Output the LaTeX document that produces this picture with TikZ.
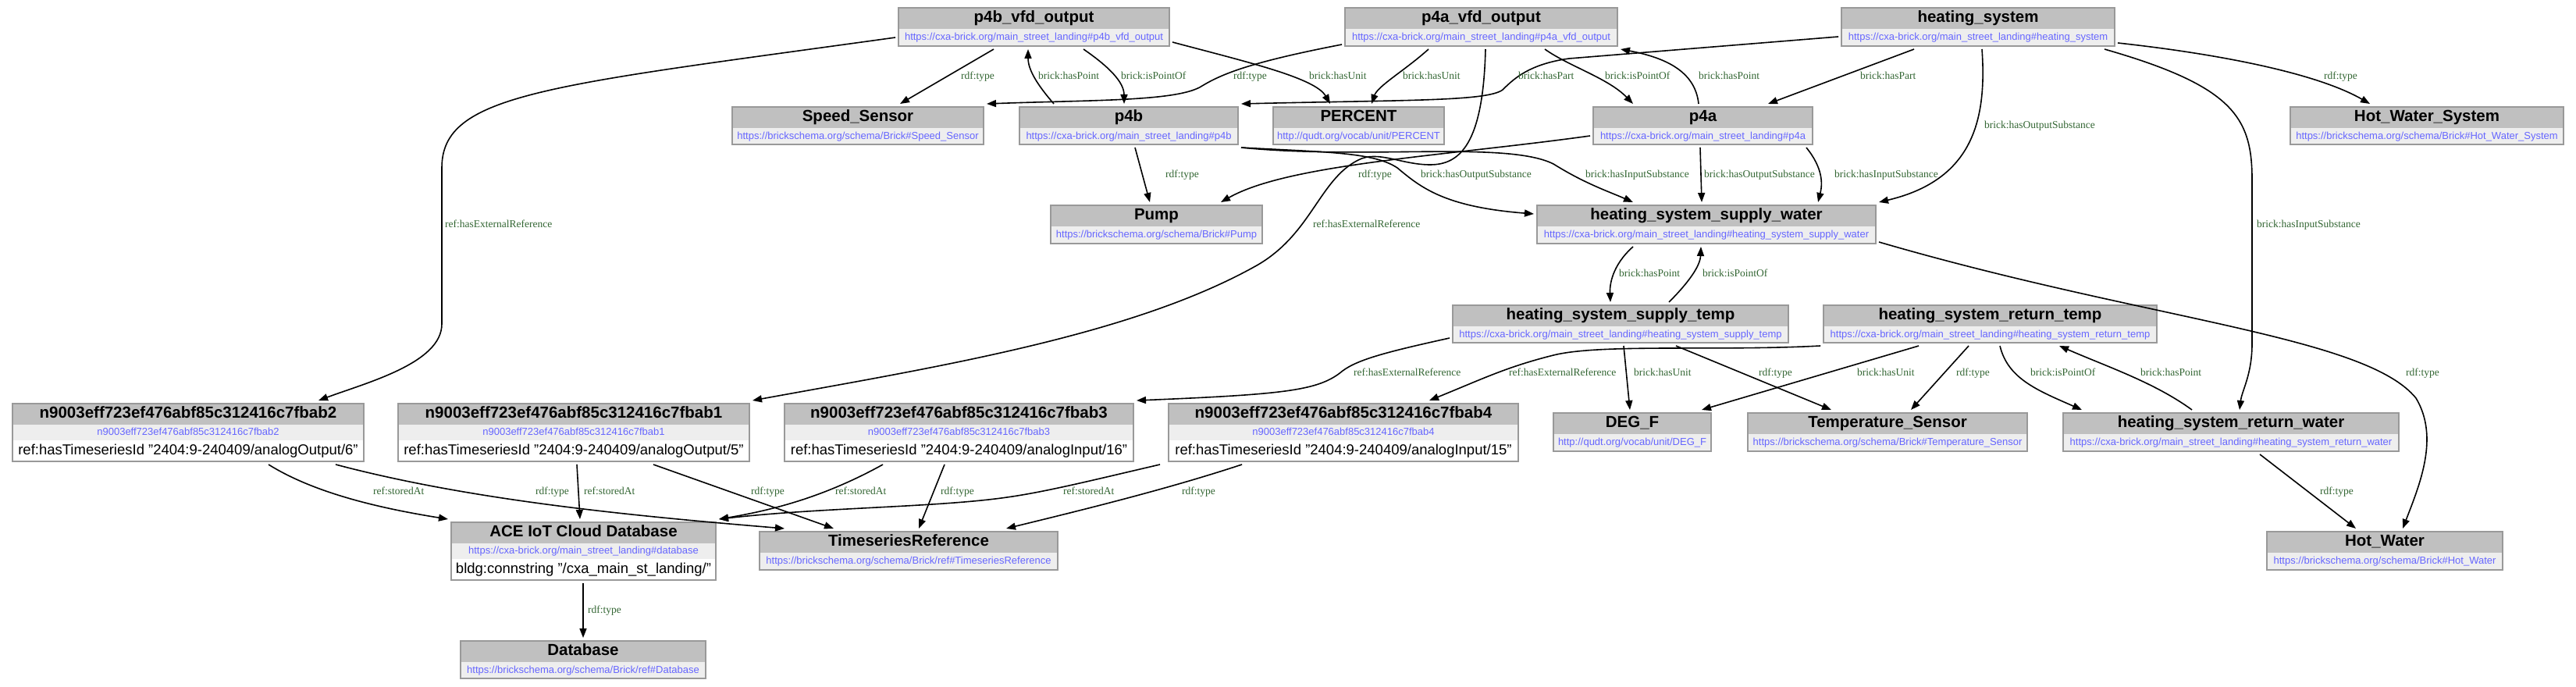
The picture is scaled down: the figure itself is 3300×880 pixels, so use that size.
\documentclass[tikz,border=0pt]{standalone}
\usepackage{fontspec}
\setmainfont{Liberation Sans}
\newfontfamily\serifl{Liberation Serif}
\usetikzlibrary{arrows.meta,fit}
\definecolor{titlefill}{HTML}{C0C0C0}
\definecolor{urlfill}{HTML}{EEEEEE}
\definecolor{urlcol}{HTML}{6666FF}
\definecolor{labcol}{HTML}{336633}
\definecolor{framecol}{HTML}{999999}
\tikzset{
  boxframe/.style={draw=framecol, line width=2.4pt},
  titletext/.style={inner sep=0pt, font=\fontsize{20.5}{24}\selectfont\bfseries, text height=14.7pt, text depth=4.3pt},
  urltext/.style={inner sep=0pt, text=urlcol, font=\fontsize{13}{15}\selectfont, text height=9.4pt, text depth=2.7pt},
  littext/.style={inner sep=0pt, font=\fontsize{18.5}{21}\selectfont, text height=13.3pt, text depth=3.9pt},
  elab/.style={inner sep=0pt, anchor=west, text=labcol, font=\serifl\fontsize{13.5}{15}\selectfont, text height=9.1pt, text depth=2.9pt},
  conn/.style={draw=black, line width=1.6pt, -{Triangle[length=12pt,width=9pt]}},
  holder/.style={inner sep=0pt, outer sep=4pt}
}
\newcommand\rdfnode[7]{%
  \fill[urlfill] (#2,#3) rectangle (#4,#5);
  \fill[titlefill] (#2,#3) rectangle (#4,{#3+27});
  \draw[boxframe] (#2,#3) rectangle (#4,#5);
  \node[titletext] (#1-t) at ({(#2+#4)/2},{#3+13.5}) {#6};
  \node[urltext] (#1-u) at ({(#2+#4)/2},{#3+38}) {#7};
  \node[holder, fit={(#2,#3) (#4,#5)}] (#1) {};
}
\newcommand\litnode[8]{%
  \fill[white] (#2,#3) rectangle (#4,#5);
  \fill[urlfill] (#2,{#3+27}) rectangle (#4,{#3+47});
  \fill[titlefill] (#2,#3) rectangle (#4,{#3+27});
  \draw[boxframe] (#2,#3) rectangle (#4,#5);
  \node[titletext] (#1-t) at ({(#2+#4)/2},{#3+13.5}) {#6};
  \node[urltext] (#1-u) at ({(#2+#4)/2},{#3+37}) {#7};
  \node[littext] (#1-l) at ({(#2+#4)/2},{#3+60.5}) {#8};
  \node[holder, fit={(#2,#3) (#4,#5)}] (#1) {};
}
\begin{document}
\begin{tikzpicture}[x=1pt,y=-1pt]
\fill[white] (0,0) rectangle (3300,880);
\useasboundingbox (0,0) rectangle (3300,880);

% ---------- nodes ----------
\rdfnode{p4bvfd}{1151}{10}{1498}{59}{p4b\_vfd\_output}{https://cxa-brick.org/main\_street\_landing\#p4b\_vfd\_output}
\rdfnode{p4avfd}{1723}{10}{2072}{59}{p4a\_vfd\_output}{https://cxa-brick.org/main\_street\_landing\#p4a\_vfd\_output}
\rdfnode{heatsys}{2359}{10}{2709}{59}{heating\_system}{https://cxa-brick.org/main\_street\_landing\#heating\_system}
\rdfnode{speed}{938}{137}{1260}{185}{Speed\_Sensor}{https://brickschema.org/schema/Brick\#Speed\_Sensor}
\rdfnode{p4b}{1306}{137}{1586}{185}{p4b}{https://cxa-brick.org/main\_street\_landing\#p4b}
\rdfnode{percent}{1631}{137}{1850}{185}{PERCENT}{http://qudt.org/vocab/unit/PERCENT}
\rdfnode{p4a}{2041}{137}{2322}{185}{p4a}{https://cxa-brick.org/main\_street\_landing\#p4a}
\rdfnode{hws}{2934}{137}{3284}{185}{Hot\_Water\_System}{https://brickschema.org/schema/Brick\#Hot\_Water\_System}
\rdfnode{pump}{1346}{263}{1617}{312}{Pump}{https://brickschema.org/schema/Brick\#Pump}
\rdfnode{supw}{1969}{263}{2403}{312}{heating\_system\_supply\_water}{https://cxa-brick.org/main\_street\_landing\#heating\_system\_supply\_water}
\rdfnode{supt}{1861}{391}{2291}{439}{heating\_system\_supply\_temp}{https://cxa-brick.org/main\_street\_landing\#heating\_system\_supply\_temp}
\rdfnode{rett}{2336}{391}{2763}{439}{heating\_system\_return\_temp}{https://cxa-brick.org/main\_street\_landing\#heating\_system\_return\_temp}
\litnode{fbabb}{16}{517}{466}{591}{n9003eff723ef476abf85c312416c7fbab2}{n9003eff723ef476abf85c312416c7fbab2}{ref:hasTimeseriesId "2404:9-240409/analogOutput/6"}
\litnode{fbaba}{510}{517}{960}{591}{n9003eff723ef476abf85c312416c7fbab1}{n9003eff723ef476abf85c312416c7fbab1}{ref:hasTimeseriesId "2404:9-240409/analogOutput/5"}
\litnode{fbabc}{1005}{517}{1452}{591}{n9003eff723ef476abf85c312416c7fbab3}{n9003eff723ef476abf85c312416c7fbab3}{ref:hasTimeseriesId "2404:9-240409/analogInput/16"}
\litnode{fbabd}{1497}{517}{1945}{591}{n9003eff723ef476abf85c312416c7fbab4}{n9003eff723ef476abf85c312416c7fbab4}{ref:hasTimeseriesId "2404:9-240409/analogInput/15"}
\rdfnode{degf}{1990}{529}{2192}{578}{DEG\_F}{http://qudt.org/vocab/unit/DEG\_F}
\rdfnode{temps}{2239}{529}{2597}{578}{Temperature\_Sensor}{https://brickschema.org/schema/Brick\#Temperature\_Sensor}
\rdfnode{retw}{2643}{529}{3073}{578}{heating\_system\_return\_water}{https://cxa-brick.org/main\_street\_landing\#heating\_system\_return\_water}
\litnode{ace}{578}{669}{917}{743}{ACE IoT Cloud Database}{https://cxa-brick.org/main\_street\_landing\#database}{bldg:connstring "/cxa\_main\_st\_landing/"}
\rdfnode{tsref}{973}{681}{1355}{730}{TimeseriesReference}{https://brickschema.org/schema/Brick/ref\#TimeseriesReference}
\rdfnode{hw}{2904}{681}{3206}{730}{Hot\_Water}{https://brickschema.org/schema/Brick\#Hot\_Water}
\rdfnode{db}{590}{821}{904}{869}{Database}{https://brickschema.org/schema/Brick/ref\#Database}

% ---------- connectors ----------
\draw[conn] (1273,0 |- p4bvfd.south) -- (1153,0 |- speed.north);
\draw[conn] (1350,0 |- p4b.north) .. controls (1330,110) and (1317,90) .. (1317,0 |- p4bvfd.south);
\draw[conn] (1388,0 |- p4bvfd.south) .. controls (1420,85) and (1440,105) .. (1440,0 |- p4b.north);
\draw[conn] (p4bvfd.east |- 0,54) .. controls (1600,80) and (1685,100) .. (1704,0 |- percent.north);
\draw[conn] (p4bvfd.west |- 0,48) .. controls (700,110) and (566,120) .. (566,215) -- (566,415) .. controls (566,465) and (470,490) .. (408,0 |- fbabb.north);
\draw[conn] (p4avfd.west |- 0,57) .. controls (1600,80) and (1565,95) .. (1540,110) .. controls (1510,130) and (1400,128) .. (speed.north east);
\draw[conn] (1830,0 |- p4avfd.south) .. controls (1800,90) and (1765,110) .. (1757,0 |- percent.north);
\draw[conn] (1979,0 |- p4avfd.south) .. controls (2010,85) and (2060,100) .. (2092,0 |- p4a.north);
\draw[conn] (2176,0 |- p4a.north) .. controls (2172,95) and (2140,75) .. (p4avfd.south east);
\draw[conn] (1903,0 |- p4avfd.south) .. controls (1900,185) and (1870,211) .. (1832,211) .. controls (1795,211) and (1765,192) .. (1740,205) .. controls (1690,230) and (1680,300) .. (1610,340) .. controls (1450,430) and (1200,470) .. (fbaba.north east);
\draw[conn] (heatsys.west |- 0,47) -- (2010,75) .. controls (1960,82) and (1940,100) .. (1925,115) .. controls (1905,130) and (1800,128) .. (p4b.north east);
\draw[conn] (2452,0 |- heatsys.south) -- (2265,0 |- p4a.north);
\draw[conn] (heatsys.east |- 0,55) .. controls (2850,70) and (2970,95) .. (3036,0 |- hws.north);
\draw[conn] (2539,0 |- heatsys.south) .. controls (2545,150) and (2530,230) .. (supw.north east);
\draw[conn] (2696,0 |- heatsys.south) .. controls (2860,110) and (2885,150) .. (2885,230) -- (2885,440) .. controls (2885,480) and (2872,500) .. (2869,0 |- retw.north);
\draw[conn] (1454,0 |- p4b.south) -- (1473,0 |- pump.north);
\draw[conn] (p4a.west |- 0,174) .. controls (1850,200) and (1650,210) .. (1564,0 |- pump.north);
\draw[conn] (p4b.south east) .. controls (1700,195) and (1760,195) .. (1790,215) .. controls (1820,240) and (1850,265) .. (supw.west |- 0,274);
\draw[conn] (p4b.south east) .. controls (1750,205) and (1930,180) .. (1990,210) .. controls (2030,235) and (2060,245) .. (2092,0 |- supw.north);
\draw[conn] (2178,0 |- p4a.south) -- (2180,0 |- supw.north);
\draw[conn] (2314,0 |- p4a.south) .. controls (2335,215) and (2335,235) .. (2329,0 |- supw.north);
\draw[conn] (2092,0 |- supw.south) .. controls (2065,340) and (2062,365) .. (2063,0 |- supt.north);
\draw[conn] (2138,0 |- supt.north) .. controls (2165,360) and (2178,340) .. (2179,0 |- supw.south);
\draw[conn] (supw.east |- 0,310) .. controls (2750,410) and (3030,430) .. (3095,510) .. controls (3125,560) and (3100,620) .. (3078,0 |- hw.north);
\draw[conn] (supt.west |- 0,433) .. controls (1780,450) and (1740,460) .. (1720,475) .. controls (1690,500) and (1650,505) .. (fbabc.north east);
\draw[conn] (rett.west |- 0,443) .. controls (2200,450) and (2050,440) .. (1990,455) .. controls (1930,470) and (1900,485) .. (1831,0 |- fbabd.north);
\draw[conn] (2080,0 |- supt.south) -- (2088,0 |- degf.north);
\draw[conn] (2147,0 |- supt.south) -- (2346,0 |- temps.north);
\draw[conn] (2458,0 |- rett.south) -- (2180,0 |- degf.north);
\draw[conn] (2522,0 |- rett.south) -- (2448,0 |- temps.north);
\draw[conn] (2562,0 |- rett.south) .. controls (2572,485) and (2610,500) .. (2667,0 |- retw.north);
\draw[conn] (2808,0 |- retw.north) .. controls (2760,490) and (2700,470) .. (2638,0 |- rett.south);
\draw[conn] (2895,0 |- retw.south) -- (3018,0 |- hw.north);
\draw[conn] (344,0 |- fbabb.south) .. controls (400,630) and (480,650) .. (ace.north west);
\draw[conn] (430,0 |- fbabb.south) .. controls (600,640) and (800,660) .. (1005,0 |- tsref.north);
\draw[conn] (739,0 |- fbaba.south) -- (743,0 |- ace.north);
\draw[conn] (837,0 |- fbaba.south) -- (1068,0 |- tsref.north);
\draw[conn] (1131,0 |- fbabc.south) .. controls (1050,640) and (980,655) .. (ace.north east);
\draw[conn] (1210,0 |- fbabc.south) -- (1177,0 |- tsref.north);
\draw[conn] (1486,0 |- fbabd.south) .. controls (1400,615) and (1340,630) .. (1290,637) .. controls (1200,650) and (1050,650) .. (ace.north east);
\draw[conn] (1591,0 |- fbabd.south) .. controls (1500,625) and (1400,650) .. (1289,0 |- tsref.north);
\draw[conn] (747,0 |- ace.south) -- (747,0 |- db.north);

% ---------- labels ----------
\node[elab] (la1) at (1231,98) {rdf:type};
\node[elab] (la2) at (1330,98) {brick:hasPoint};
\node[elab] (la3) at (1436,98) {brick:isPointOf};
\node[elab] (la4) at (1580,98) {rdf:type};
\node[elab] (la5) at (1677,98) {brick:hasUnit};
\node[elab] (la6) at (1797,98) {brick:hasUnit};
\node[elab] (la7) at (1945,98) {brick:hasPart};
\node[elab] (la8) at (2056,98) {brick:isPointOf};
\node[elab] (la9) at (2176,98) {brick:hasPoint};
\node[elab] (la10) at (2383,98) {brick:hasPart};
\node[elab] (la11) at (2977,98) {rdf:type};
\node[elab] (la12) at (2542,161) {brick:hasOutputSubstance};
\node[elab] (la13) at (1493,224) {rdf:type};
\node[elab] (la14) at (1740,224) {rdf:type};
\node[elab] (la15) at (1820,224) {brick:hasOutputSubstance};
\node[elab] (la16) at (2031,224) {brick:hasInputSubstance};
\node[elab] (la17) at (2183,224) {brick:hasOutputSubstance};
\node[elab] (la18) at (2350,224) {brick:hasInputSubstance};
\node[elab] (la19) at (570,288) {ref:hasExternalReference};
\node[elab] (la20) at (1682,288) {ref:hasExternalReference};
\node[elab] (la21) at (2891,288) {brick:hasInputSubstance};
\node[elab] (la22) at (2074,351) {brick:hasPoint};
\node[elab] (la23) at (2181,351) {brick:isPointOf};
\node[elab] (la24) at (1734,478) {ref:hasExternalReference};
\node[elab] (la25) at (1933,478) {ref:hasExternalReference};
\node[elab] (la26) at (2093,478) {brick:hasUnit};
\node[elab] (la27) at (2253,478) {rdf:type};
\node[elab] (la28) at (2379,478) {brick:hasUnit};
\node[elab] (la29) at (2506,478) {rdf:type};
\node[elab] (la30) at (2601,478) {brick:isPointOf};
\node[elab] (la31) at (2742,478) {brick:hasPoint};
\node[elab] (la32) at (3082,478) {rdf:type};
\node[elab] (la33) at (478,630) {ref:storedAt};
\node[elab] (la34) at (686,630) {rdf:type};
\node[elab] (la35) at (748,630) {ref:storedAt};
\node[elab] (la36) at (962,630) {rdf:type};
\node[elab] (la37) at (1070,630) {ref:storedAt};
\node[elab] (la38) at (1205,630) {rdf:type};
\node[elab] (la39) at (1362,630) {ref:storedAt};
\node[elab] (la40) at (1514,630) {rdf:type};
\node[elab] (la41) at (2972,630) {rdf:type};
\node[elab] (la42) at (753,782) {rdf:type};
\end{tikzpicture}
\end{document}
